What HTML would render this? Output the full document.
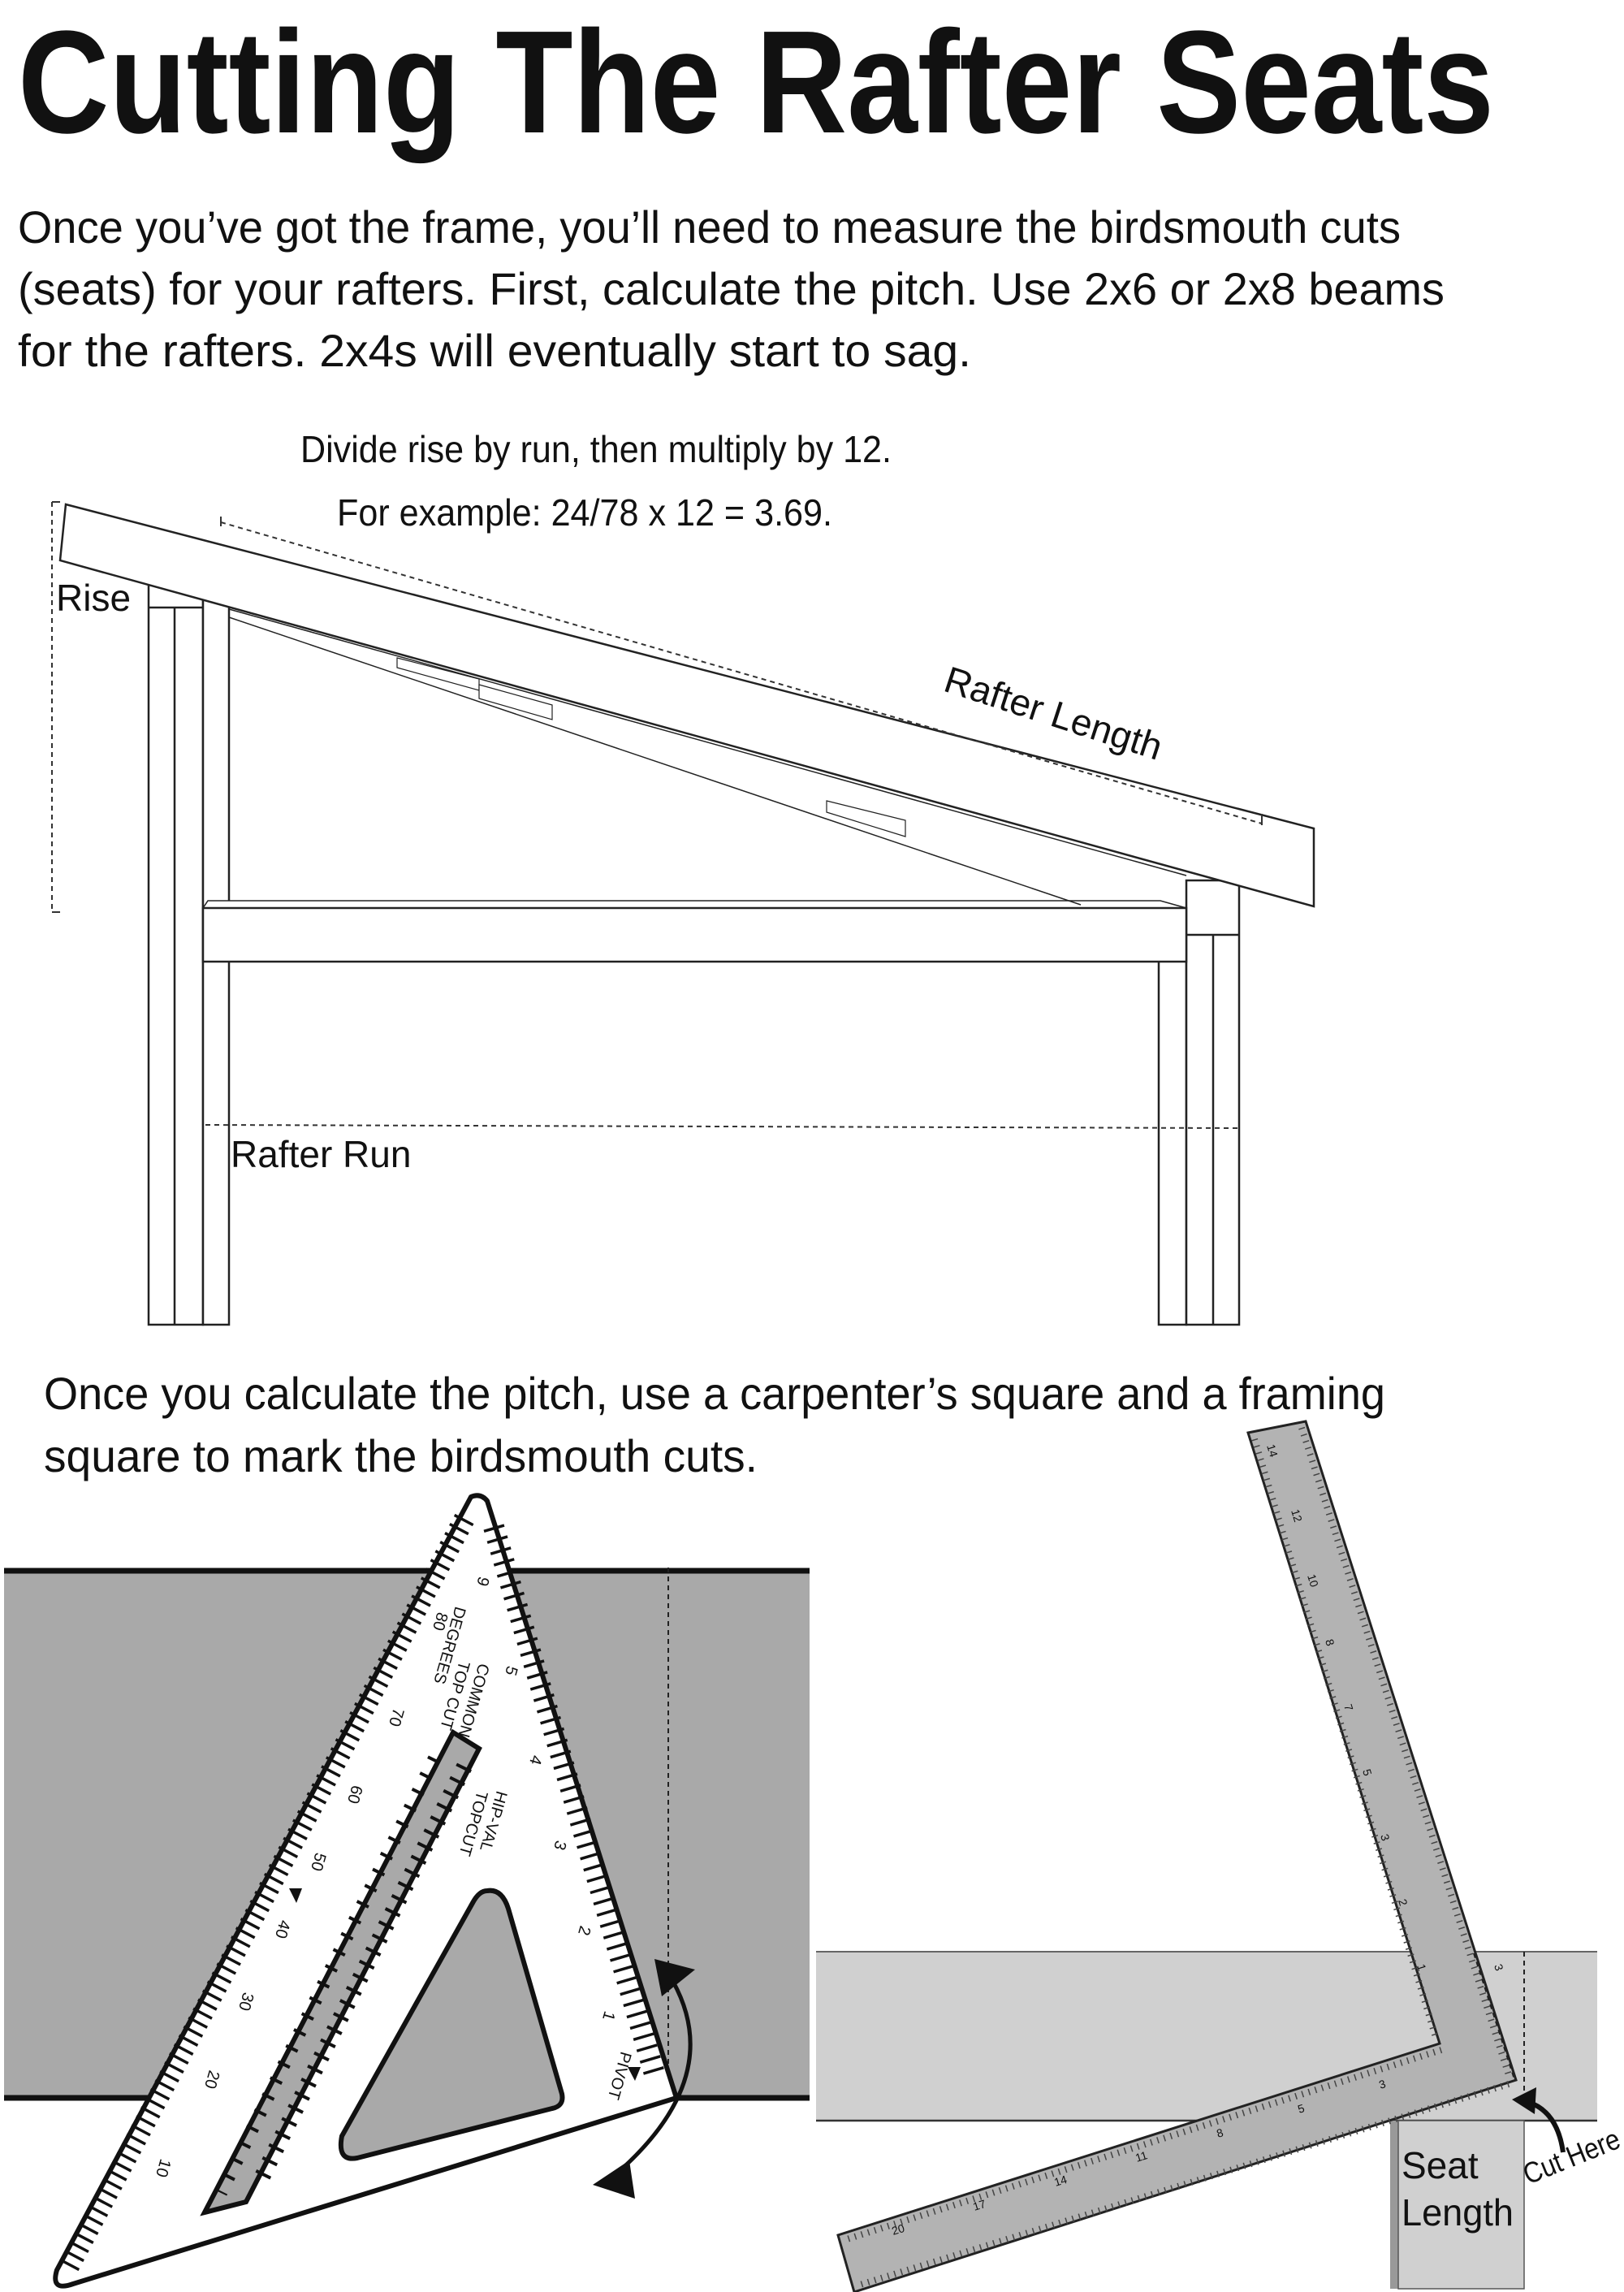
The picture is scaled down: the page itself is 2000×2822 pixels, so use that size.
<!DOCTYPE html>
<html><head><meta charset="utf-8"><style>
html,body{margin:0;padding:0;background:#fff;}
svg{display:block;}
text{font-family:"Liberation Sans",sans-serif;fill:#111;}
</style></head><body>
<svg width="2000" height="2822" viewBox="0 0 2000 2822" xmlns="http://www.w3.org/2000/svg">
<rect width="2000" height="2822" fill="#fff"/>
<text x="22" y="163" font-size="180" font-weight="bold" textLength="1818" lengthAdjust="spacingAndGlyphs">Cutting The Rafter Seats</text>
<g font-size="56">
<text x="22" y="299" textLength="1703" lengthAdjust="spacingAndGlyphs">Once you’ve got the frame, you’ll need to measure the birdsmouth cuts</text>
<text x="22" y="375" textLength="1757" lengthAdjust="spacingAndGlyphs">(seats) for your rafters. First, calculate the pitch. Use 2x6 or 2x8 beams</text>
<text x="22" y="451" textLength="1174" lengthAdjust="spacingAndGlyphs">for the rafters. 2x4s will eventually start to sag.</text>
</g>
<g font-size="46">
<text x="370" y="569" textLength="728" lengthAdjust="spacingAndGlyphs">Divide rise by run, then multiply by 12.</text>
<text x="415" y="647" textLength="610" lengthAdjust="spacingAndGlyphs">For example: 24/78 x 12 = 3.69.</text>
</g>

<g stroke="#222" stroke-width="2.5" fill="#fff">
  <rect x="183" y="714" width="67" height="917"/>
  <line x1="215" y1="748" x2="215" y2="1631"/>
  <line x1="183" y1="748" x2="250" y2="748"/>
  <rect x="250" y="736" width="32" height="895"/>
  <rect x="1427" y="1150" width="34" height="481"/>
  <rect x="1461" y="1084" width="65" height="547"/>
  <line x1="1494" y1="1151" x2="1494" y2="1631"/>
  <line x1="1461" y1="1151" x2="1526" y2="1151"/>
  <polygon points="256,1109 1429,1109 1461,1118 250,1118" stroke-width="1.5"/>
  <rect x="250" y="1118" width="1211" height="66"/>
  <polyline points="282,760 1331,1114" fill="none" stroke-width="1.5"/>
  <polyline points="282,750 1461,1078" fill="none" stroke-width="1.5"/>
  <polygon points="489,810 590,836 590,850 489,822" stroke-width="1.2"/>
  <polygon points="590,843 680,868 680,886 590,860" stroke-width="1.2"/>
  <polygon points="1018,986 1115,1010 1115,1030 1018,1000" stroke-width="1.2"/>
  <polygon points="81,621 1618,1020 1618,1116 74,690"/>
</g>
<g stroke="#333" stroke-width="2" fill="none" stroke-dasharray="6 5">
  <line x1="64" y1="618" x2="64" y2="1123"/>
  <line x1="272" y1="643" x2="1554" y2="1014"/>
  <line x1="253" y1="1385" x2="1526" y2="1389"/>
</g>
<g stroke="#333" stroke-width="2" fill="none">
  <line x1="64" y1="618" x2="74" y2="618"/>
  <line x1="64" y1="1123" x2="74" y2="1123"/>
  <line x1="272" y1="636" x2="272" y2="648"/>
  <line x1="1554" y1="1002" x2="1554" y2="1016"/>
</g>
<g font-size="46">
<text x="69" y="752">Rise</text>
<text x="284" y="1437">Rafter Run</text>
<text x="0" y="0" transform="translate(1160,850) rotate(18)">Rafter Length</text>
</g>

<g font-size="56">
<text x="54" y="1735" textLength="1652" lengthAdjust="spacingAndGlyphs">Once you calculate the pitch, use a carpenter’s square and a framing</text>
<text x="54" y="1812" textLength="879" lengthAdjust="spacingAndGlyphs">square to mark the birdsmouth cuts.</text>
</g>

<rect x="5" y="1934" width="992" height="649" fill="#a9a9a9"/>
<line x1="5" y1="1934" x2="997" y2="1934" stroke="#111" stroke-width="7"/>
<line x1="5" y1="2583" x2="997" y2="2583" stroke="#111" stroke-width="7"/>
<line x1="823" y1="1930" x2="823" y2="2578" stroke="#222" stroke-width="2" stroke-dasharray="6 5"/>
<line x1="628" y1="1936" x2="823" y2="2580" stroke="#222" stroke-width="2" stroke-dasharray="6 5"/>

<path d="M580,1843 Q592,1838 600,1848 L833,2583 L90,2812 Q62,2822 70,2795 Z" fill="#fff" stroke="#111" stroke-width="6" stroke-linejoin="round"/>
<path d="M600,2328 Q618,2325 626,2350 L692,2578 Q695,2593 680,2596 L440,2657 Q415,2662 421,2630 L582,2343 Q590,2328 600,2328 Z" fill="#a9a9a9" stroke="#111" stroke-width="6"/>
<polygon points="558,2133 590,2153 303,2711 252,2724" fill="#a9a9a9" stroke="#111" stroke-width="6"/>
<line x1="572" y1="1870" x2="85" y2="2790" stroke="#111" stroke-width="26" stroke-dasharray="3.5 9"/>
<line x1="608" y1="1880" x2="808" y2="2560" stroke="#111" stroke-width="26" stroke-dasharray="3.5 11"/>
<line x1="572" y1="2175" x2="318" y2="2690" stroke="#111" stroke-width="20" stroke-dasharray="4 14"/>
<line x1="535" y1="2165" x2="272" y2="2700" stroke="#111" stroke-width="16" stroke-dasharray="4 18"/>
<g font-size="20" fill="#333">
<text transform="translate(590,2047) rotate(106)">COMMON</text>
<text transform="translate(566,2044) rotate(106)">TOP CUT</text>
<text transform="translate(561,1977) rotate(106)">DEGREES</text>
<text transform="translate(612,2204) rotate(106)">HIP-VAL</text>
<text transform="translate(588,2204) rotate(106)">TOPCUT</text>
<text transform="translate(765,2525) rotate(106)">PIVOT</text>
<text transform="translate(539,1984) rotate(106)">80</text>
<text transform="translate(485,2102) rotate(106)">70</text>
<text transform="translate(434,2197) rotate(106)">60</text>
<text transform="translate(389,2280) rotate(106)">50</text>
<text transform="translate(345,2363) rotate(106)">40</text>
<text transform="translate(300,2452) rotate(106)">30</text>
<text transform="translate(258,2548) rotate(106)">20</text>
<text transform="translate(198,2657) rotate(106)">10</text>
<text transform="translate(590,1940) rotate(106)">9</text>
<text transform="translate(625,2050) rotate(106)">5</text>
<text transform="translate(655,2160) rotate(106)">4</text>
<text transform="translate(685,2265) rotate(106)">3</text>
<text transform="translate(715,2370) rotate(106)">2</text>
<text transform="translate(745,2475) rotate(106)">1</text>
</g>
<polygon points="356,2325 372,2325 365,2343" fill="#111"/>
<polygon points="773,2545 789,2545 782,2562" fill="#111"/>
<path d="M829,2440 Q895,2560 755,2680" fill="none" stroke="#111" stroke-width="5"/>
<polygon points="806,2412 856,2425 815,2458" fill="#111"/>
<polygon points="730,2690 775,2660 782,2707" fill="#111"/>

<rect x="1005" y="2403" width="962" height="208" fill="#d0d0d0"/>
<line x1="1005" y1="2403" x2="1967" y2="2403" stroke="#666" stroke-width="2"/>
<line x1="1005" y1="2611" x2="1967" y2="2611" stroke="#333" stroke-width="2.5"/>
<rect x="1712" y="2611" width="12" height="207" fill="#999"/>
<rect x="1722" y="2611" width="155" height="207" fill="#d0d0d0" stroke="#555" stroke-width="1.5"/>
<g font-size="46">
<text x="1726" y="2682">Seat</text>
<text x="1726" y="2740" textLength="138" lengthAdjust="spacingAndGlyphs">Length</text>
</g>
<polygon points="1537,1764 1608,1750 1867,2561 1052,2822 1032,2752 1773,2516" fill="#b3b3b3" stroke="#222" stroke-width="3"/>
<line x1="1603" y1="1758" x2="1858" y2="2555" stroke="#444" stroke-width="8" stroke-dasharray="1.5 7"/>
<line x1="1545" y1="1772" x2="1768" y2="2508" stroke="#444" stroke-width="8" stroke-dasharray="1.5 7"/>
<line x1="1775" y1="2524" x2="1040" y2="2758" stroke="#444" stroke-width="8" stroke-dasharray="1.5 7"/>
<line x1="1858" y1="2566" x2="1056" y2="2814" stroke="#444" stroke-width="8" stroke-dasharray="1.5 7"/>
<g font-size="14" fill="#333">
<text transform="translate(1560,1780) rotate(73)">14</text>
<text transform="translate(1590,1860) rotate(73)">12</text>
<text transform="translate(1610,1940) rotate(73)">10</text>
<text transform="translate(1632,2020) rotate(73)">8</text>
<text transform="translate(1655,2100) rotate(73)">7</text>
<text transform="translate(1678,2180) rotate(73)">5</text>
<text transform="translate(1700,2260) rotate(73)">3</text>
<text transform="translate(1722,2340) rotate(73)">2</text>
<text transform="translate(1745,2420) rotate(73)">1</text>
<text transform="translate(1840,2420) rotate(73)">3</text>
<text transform="translate(1700,2572) rotate(-17)">3</text>
<text transform="translate(1600,2602) rotate(-17)">5</text>
<text transform="translate(1500,2632) rotate(-17)">8</text>
<text transform="translate(1400,2662) rotate(-17)">11</text>
<text transform="translate(1300,2692) rotate(-17)">14</text>
<text transform="translate(1200,2722) rotate(-17)">17</text>
<text transform="translate(1100,2752) rotate(-17)">20</text>
</g>
<line x1="1877" y1="2403" x2="1877" y2="2580" stroke="#222" stroke-width="2" stroke-dasharray="6 5"/>
<line x1="1815" y1="2405" x2="1865" y2="2560" stroke="#222" stroke-width="2" stroke-dasharray="6 5"/>
<path d="M1925,2650 Q1918,2600 1882,2588" fill="none" stroke="#111" stroke-width="6"/>
<polygon points="1862,2585 1892,2570 1890,2603" fill="#111"/>
<text font-size="36" transform="translate(1882,2690) rotate(-22)" textLength="125" lengthAdjust="spacingAndGlyphs">Cut Here</text>
</svg>
</body></html>
